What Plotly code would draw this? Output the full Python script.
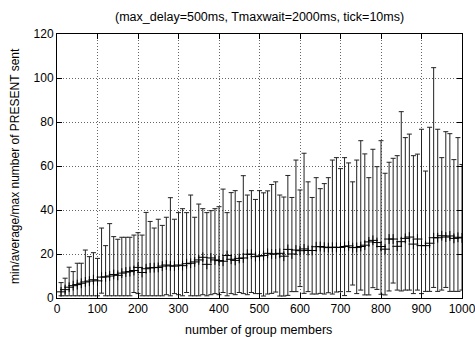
import plotly.graph_objects as go

members = list(range(10, 1001, 10))

avg_sent = [2.8, 3.8, 4.9, 5.6, 6.1, 6.7, 7.3, 7.7, 8.3, 7.8,
            9.5, 9.6, 10.0, 10.7, 10.3, 11.3, 11.8, 12.0, 12.5, 13.9,
            11.6, 13.3, 13.7, 13.8, 13.9, 14.5, 15.0, 14.6, 14.5, 15.0,
            14.7, 15.6, 15.8, 16.4, 17.3, 18.5, 15.3, 18.2, 17.3, 17.0,
            16.7, 19.3, 17.6, 17.1, 18.0, 18.2, 19.9, 19.9, 18.8, 19.1,
            19.3, 20.3, 20.0, 20.0, 20.3, 19.0, 22.1, 20.0, 21.8, 21.5,
            22.3, 21.6, 21.6, 23.3, 23.4, 23.1, 22.9, 23.1, 23.0, 23.0,
            23.4, 23.7, 22.9, 23.0, 23.4, 24.0, 25.5, 26.2, 25.2, 23.4,
            22.2, 26.8, 26.8, 23.5, 25.6, 27.1, 27.7, 24.5, 26.8, 23.8,
            23.8, 24.9, 27.4, 27.4, 28.3, 27.7, 28.2, 27.1, 27.6, 27.3]

max_sent = [7.0, 9.0, 14.0, 12.0, 15.8, 15.8, 21.8, 18.8, 20.6, 18.0,
            31.8, 23.8, 33.8, 27.9, 26.7, 27.6, 27.6, 27.6, 28.6, 29.7,
            28.6, 38.9, 34.8, 31.8, 35.8, 33.0, 36.7, 45.6, 35.8, 38.8,
            40.6, 38.8, 46.8, 36.7, 42.7, 40.6, 38.8, 39.7, 40.6, 41.5,
            49.5, 38.8, 47.9, 48.8, 43.8, 55.6, 46.8, 48.8, 44.8, 48.8,
            47.8, 48.7, 51.6, 52.8, 46.8, 45.9, 55.7, 45.7, 62.7, 49.1,
            65.8, 52.8, 45.7, 54.7, 49.7, 52.0, 54.7, 62.7, 63.8, 58.8,
            63.8, 61.4, 52.8, 62.7, 71.5, 65.5, 54.7, 67.6, 59.7, 71.5,
            56.7, 61.7, 63.5, 64.7, 84.7, 72.9, 74.5, 64.7, 65.4, 76.7,
            57.7, 77.6, 104.7, 76.7, 63.8, 75.6, 74.7, 62.9, 72.9, 60.7]

min_sent = [1.0, 1.0, 1.0, 1.0, 1.0, 1.0, 1.0, 1.0, 1.0, 1.0,
            2.2, 1.0, 1.0, 1.0, 1.0, 1.0, 1.0, 1.0, 2.5, 2.0,
            1.0, 1.0, 1.0, 1.0, 1.0, 1.0, 1.5, 1.0, 2.0, 1.5,
            1.0, 2.5, 1.0, 1.0, 1.0, 1.5, 1.0, 1.5, 2.0, 1.5,
            2.5, 1.0, 2.0, 1.5, 2.5, 2.0, 1.5, 2.5, 2.0, 2.0,
            0.9, 1.8, 2.1, 2.7, 0.9, 0.9, 1.2, 2.9, 2.9, 5.2,
            2.1, 2.9, 1.8, 1.8, 2.1, 1.8, 2.4, 1.8, 2.7, 2.9,
            1.1, 2.9, 5.9, 2.0, 3.6, 1.4, 1.4, 4.7, 3.9, 1.7,
            1.4, 3.2, 6.8, 3.6, 3.2, 3.6, 3.6, 2.0, 3.6, 2.0,
            3.0, 3.0, 4.8, 3.0, 3.6, 4.8, 3.0, 3.0, 3.0, 3.6]

err_plus = [mx - a for mx, a in zip(max_sent, avg_sent)]
err_minus = [a - mn for mn, a in zip(min_sent, avg_sent)]

fig = go.Figure()
fig.add_trace(go.Scatter(
    x=members, y=avg_sent, mode="markers",
    marker=dict(symbol="cross-thin", size=7, color="black",
                line=dict(color="black", width=1)),
    error_y=dict(type="data", symmetric=False, array=err_plus,
                 arrayminus=err_minus, color="#222222", thickness=1, width=2.5),
    showlegend=False,
))

font_family = "Liberation Sans, Arial, Helvetica, sans-serif"
axis_common = dict(
    showline=True, linecolor="black", linewidth=1, mirror="ticks",
    ticks="inside", ticklen=5, tickcolor="black",
    showgrid=True, gridcolor="#666666", griddash="1px,2px", gridwidth=1,
    zeroline=False, automargin=False, tickfont=dict(size=12),
    ticklabeloverflow="allow",
)
fig.update_layout(
    width=475, height=337,
    margin=dict(l=57, r=13, t=34, b=39, autoexpand=False),
    paper_bgcolor="white", plot_bgcolor="white",
    font=dict(family=font_family, size=12, color="black"),
    title=dict(text="(max_delay=500ms, Tmaxwait=2000ms, tick=10ms)",
               x=0.5465, xanchor="center", y=0.951, yanchor="middle",
               font=dict(size=12.5, family=font_family, color="black")),
    xaxis=dict(range=[0, 1000], dtick=100, tick0=0, **axis_common),
    yaxis=dict(range=[0, 120], dtick=20, tick0=0, **axis_common),
    annotations=[
        dict(text="number of group members", xref="paper", yref="paper",
             x=0.498, y=-0.121, xanchor="center", yanchor="middle",
             showarrow=False, font=dict(size=12.5)),
        dict(text="min/average/max number of PRESENT sent", xref="paper",
             yref="paper", x=-0.104, y=0.5, xanchor="center",
             yanchor="middle", textangle=-90, showarrow=False,
             font=dict(size=12)),
    ],
)

fig.write_html(
    "out.html",
    config={"displayModeBar": False},
    post_script="document.body.style.margin='0';document.body.style.overflow='hidden';",
)
